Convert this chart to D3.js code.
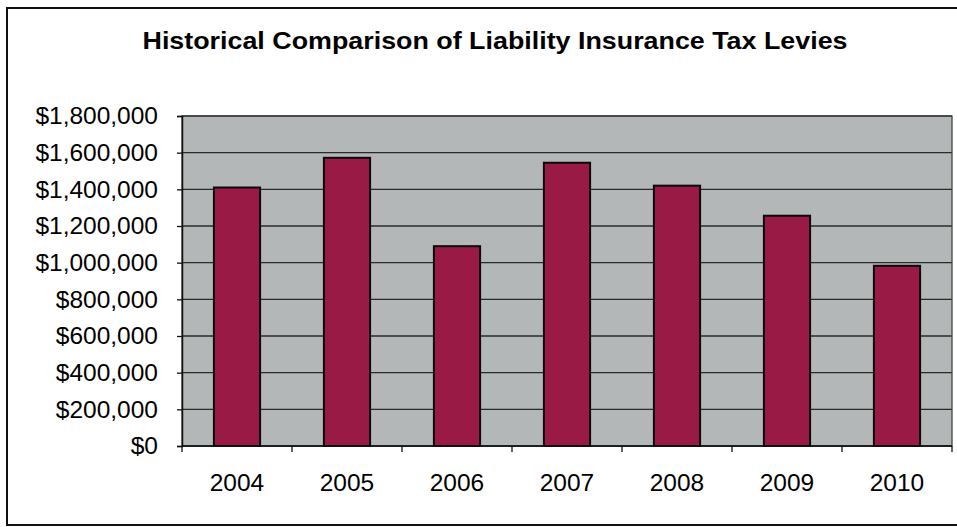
<!DOCTYPE html>
<html>
<head>
<meta charset="utf-8">
<script src="https://cdn.jsdelivr.net/npm/d3@7"></script>
<style>
  body { margin: 0; background: #fff; }
  svg text { font-family: "Liberation Sans", Arial, sans-serif; fill: #000; }
</style>
</head>
<body>
<div id="chartDiv"></div>
<script>
// chart data
var years = ["2004", "2005", "2006", "2007", "2008", "2009", "2010"];
var levies = [1410000, 1572000, 1090000, 1545000, 1420000, 1256000, 983000];
var yTicks = [0, 200000, 400000, 600000, 800000, 1000000, 1200000, 1400000, 1600000, 1800000];
var chartTitle = "Historical Comparison of Liability Insurance Tax Levies";

var width = 957, height = 527;
var plot = { left: 182, right: 952, top: 116, bottom: 446 };

var svg = d3.select("#chartDiv").append("svg")
  .attr("width", width)
  .attr("height", height);

// outer frame of the chart object
svg.append("rect")
  .attr("x", 7).attr("y", 8)
  .attr("width", 970).attr("height", 517)
  .attr("fill", "none")
  .attr("stroke", "#111")
  .attr("stroke-width", 2);

svg.append("text")
  .attr("x", 495).attr("y", 49)
  .attr("text-anchor", "middle")
  .attr("font-size", 24)
  .attr("font-weight", "bold")
  .attr("textLength", 705)
  .attr("lengthAdjust", "spacingAndGlyphs")
  .text(chartTitle);

var x = d3.scaleBand()
  .domain(years)
  .range([plot.left, plot.right])
  .padding(0);

var y = d3.scaleLinear()
  .domain([0, 1800000])
  .range([plot.bottom, plot.top]);

// grey plot area
svg.append("rect")
  .attr("x", plot.left).attr("y", plot.top)
  .attr("width", plot.right - plot.left)
  .attr("height", plot.bottom - plot.top)
  .attr("fill", "#b4b7b7");

// gridlines
svg.append("g")
  .selectAll("line")
  .data(yTicks)
  .enter()
  .append("line")
    .attr("x1", plot.left).attr("x2", plot.right)
    .attr("y1", function(d) { return y(d); })
    .attr("y2", function(d) { return y(d); })
    .attr("stroke", "#2a2a2a")
    .attr("stroke-width", 1.3);

// plot border
svg.append("rect")
  .attr("x", plot.left).attr("y", plot.top)
  .attr("width", plot.right - plot.left)
  .attr("height", plot.bottom - plot.top)
  .attr("fill", "none")
  .attr("stroke", "#444")
  .attr("stroke-width", 1.3);

// bars
var barW = x.bandwidth() * 0.42;
svg.append("g")
  .selectAll("rect")
  .data(levies)
  .enter()
  .append("rect")
    .attr("x", function(d, i) { return x(years[i]) + (x.bandwidth() - barW) / 2; })
    .attr("y", function(d) { return y(d); })
    .attr("width", barW)
    .attr("height", function(d) { return plot.bottom - y(d); })
    .attr("fill", "#981a45")
    .attr("stroke", "#0a0a0a")
    .attr("stroke-width", 2);

// y axis
var yAxis = svg.append("g")
  .attr("transform", "translate(" + plot.left + ",0)")
  .call(d3.axisLeft(y)
    .tickValues(yTicks)
    .tickSize(5)
    .tickPadding(19)
    .tickFormat(function(d) { return "$" + d3.format(",")(d); }));
yAxis.select(".domain").attr("stroke", "#111").attr("stroke-width", 1.5);
yAxis.selectAll(".tick line").attr("stroke", "#111").attr("stroke-width", 1.3);
yAxis.selectAll("text")
  .attr("font-size", 24.5)
  .attr("font-family", "Liberation Sans, Arial, sans-serif")
  .attr("fill", "#000");

// x axis: ticks at category boundaries
var xAxis = svg.append("g")
  .attr("transform", "translate(0," + plot.bottom + ")");
xAxis.append("line")
  .attr("x1", plot.left).attr("x2", plot.right)
  .attr("stroke", "#111").attr("stroke-width", 1.5);
xAxis.selectAll("line.tk")
  .data(years.concat(["end"]))
  .enter()
  .append("line")
    .attr("class", "tk")
    .attr("x1", function(d, i) { return i < years.length ? x(d) : plot.right; })
    .attr("x2", function(d, i) { return i < years.length ? x(d) : plot.right; })
    .attr("y1", 0).attr("y2", 6)
    .attr("stroke", "#111").attr("stroke-width", 1.3);
xAxis.selectAll("text")
  .data(years)
  .enter()
  .append("text")
    .attr("x", function(d) { return x(d) + x.bandwidth() / 2; })
    .attr("y", 45)
    .attr("text-anchor", "middle")
    .attr("font-size", 24.5)
    .text(function(d) { return d; });
</script>
</body>
</html>
